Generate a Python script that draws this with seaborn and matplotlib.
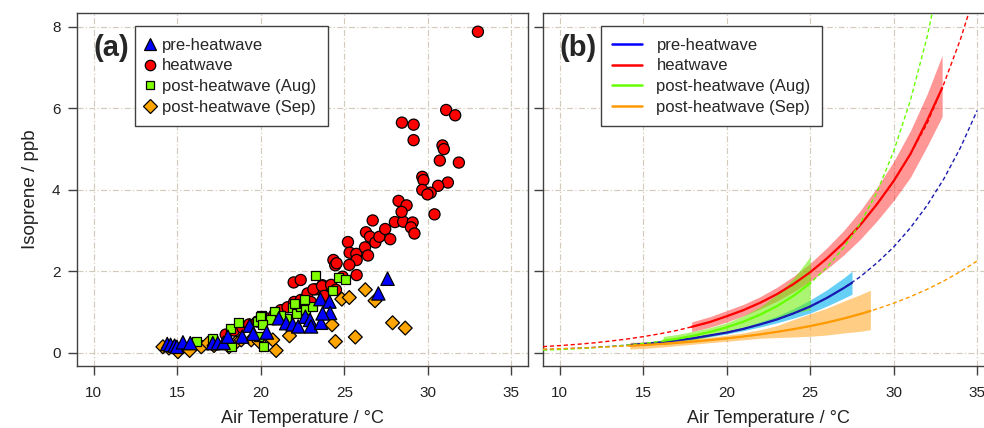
import numpy as np
import pandas as pd
import matplotlib
matplotlib.use("Agg")
import matplotlib.pyplot as plt
import seaborn as sns
from matplotlib.lines import Line2D

# ---------------- data: panel (a) observations ----------------
pre_T = [14.40, 14.60, 14.84, 14.98, 15.34, 15.78, 17.13, 17.43, 17.77, 18.03, 18.89, 19.33,
         19.55, 20.36, 21.08, 21.52, 21.91, 22.24, 22.67, 22.95, 23.01, 23.57, 24.11, 23.61,
         24.15, 23.70, 27.59, 27.04]
pre_y = [0.22, 0.20, 0.18, 0.15, 0.26, 0.24, 0.24, 0.24, 0.25, 0.40, 0.40, 0.67,
         0.47, 0.50, 0.85, 0.73, 0.70, 0.65, 0.89, 0.81, 0.65, 1.32, 1.26, 0.74,
         0.98, 0.97, 1.82, 1.46]

heat_T = [17.9, 18.4, 18.9, 19.3, 19.8, 20.3, 20.8, 21.2, 21.6, 22.0, 22.4, 22.8, 23.3, 23.7,
          24.2, 21.97, 22.39, 23.15, 23.67, 24.21, 23.0, 23.8, 24.5, 24.35, 24.46, 24.54, 24.9,
          25.22, 25.32, 25.72, 25.74, 25.30, 25.74, 26.24, 26.42, 26.3, 26.54, 26.86, 27.1,
          26.7, 27.45, 27.75, 28.03, 28.53, 29.09, 28.99, 29.2, 28.25, 28.73, 28.43, 30.4,
          29.67, 29.74, 31.2, 30.62, 29.67, 30.17, 29.98, 30.72, 31.86, 30.88, 30.96, 28.45,
          29.15, 29.15, 31.1, 31.64, 33.0]
heat_y = [0.45, 0.55, 0.62, 0.70, 0.77, 0.85, 0.93, 1.05, 1.12, 1.25, 1.30, 1.46, 1.56, 1.66,
          1.63, 1.73, 1.79, 1.56, 1.64, 1.67, 1.25, 1.40, 1.55, 2.28, 2.15, 2.20, 1.87,
          2.72, 2.46, 2.43, 2.28, 2.16, 1.91, 2.59, 2.39, 2.96, 2.85, 2.71, 2.85,
          3.25, 3.04, 2.79, 3.21, 3.22, 3.20, 3.08, 2.93, 3.73, 3.62, 3.46, 3.40,
          4.32, 4.24, 4.18, 4.10, 4.00, 3.93, 3.89, 4.72, 4.67, 5.09, 5.00, 5.65,
          5.60, 5.22, 5.96, 5.83, 7.88]

aug_T = [16.18, 17.09, 18.17, 18.69, 18.23, 19.82, 20.06, 20.16, 19.88, 20.66, 21.52, 21.88,
         22.15, 22.36, 22.61, 22.67, 23.11, 23.25, 24.66, 25.10, 24.27, 22.60, 22.00, 21.20,
         20.80, 20.60, 20.00, 20.10]
aug_y = [0.29, 0.36, 0.61, 0.74, 0.15, 0.77, 0.91, 0.17, 0.40, 0.83, 0.85, 1.12,
         0.97, 1.15, 1.22, 1.06, 1.14, 1.89, 1.86, 1.79, 1.52, 1.30, 1.22, 0.93,
         1.01, 0.81, 0.89, 0.69]

sep_T = [14.14, 14.50, 15.04, 15.74, 16.44, 16.84, 17.20, 18.10, 18.50, 18.83, 19.43, 19.90,
         20.72, 20.92, 21.72, 24.27, 24.47, 24.85, 25.30, 25.66, 26.26, 26.84, 27.89, 28.65]
sep_y = [0.15, 0.12, 0.03, 0.06, 0.15, 0.24, 0.18, 0.15, 0.25, 0.32, 0.32, 0.28,
         0.32, 0.06, 0.42, 0.69, 0.28, 1.32, 1.36, 0.39, 1.55, 1.28, 0.74, 0.61]

# ---------------- data: panel (b) fitted curves ----------------
ext_T = list(range(9, 36))
pre_ext = [0.083, 0.097, 0.115, 0.135, 0.16, 0.19, 0.22, 0.26, 0.31, 0.36, 0.43, 0.50, 0.59,
           0.70, 0.82, 0.97, 1.14, 1.35, 1.59, 1.87, 2.21, 2.60, 3.07, 3.62, 4.27, 5.04, 5.95]
heat_ext = [0.155, 0.18, 0.21, 0.245, 0.29, 0.34, 0.40, 0.47, 0.55, 0.65, 0.76, 0.90, 1.05,
            1.23, 1.44, 1.69, 1.98, 2.32, 2.70, 3.14, 3.65, 4.22, 4.88, 5.63, 6.60, 7.70, 9.00]
aug_ext = [0.070, 0.085, 0.104, 0.127, 0.155, 0.189, 0.231, 0.283, 0.345, 0.422, 0.515, 0.629,
           0.768, 0.938, 1.146, 1.400, 1.710, 2.100, 2.580, 3.180, 3.950, 4.950, 6.200, 7.750,
           9.700, 12.1, 15.0]
sep_ext = [0.092, 0.104, 0.118, 0.133, 0.151, 0.171, 0.193, 0.218, 0.247, 0.279, 0.316, 0.357,
           0.404, 0.456, 0.516, 0.584, 0.660, 0.746, 0.844, 0.955, 1.080, 1.221, 1.381, 1.561,
           1.766, 1.997, 2.258]

pre_fT = [14.3, 15, 16, 17, 18, 19, 20, 21, 22, 23, 24, 25, 26, 27, 27.5]
pre_fy = [0.20, 0.22, 0.26, 0.31, 0.36, 0.43, 0.50, 0.59, 0.70, 0.82, 0.97, 1.14, 1.35, 1.59, 1.72]
pre_hi = [0.228, 0.25, 0.289, 0.34, 0.389, 0.463, 0.535, 0.634, 0.763, 0.902, 1.086, 1.30, 1.55, 1.84, 2.00]
pre_lo = [0.172, 0.19, 0.231, 0.28, 0.331, 0.397, 0.465, 0.546, 0.637, 0.738, 0.854, 0.98, 1.15, 1.34, 1.44]

heat_fT = [17.9, 19, 20, 21, 22, 23, 24, 25, 26, 27, 28, 29, 30, 31, 32, 32.9]
heat_fy = [0.64, 0.76, 0.90, 1.05, 1.23, 1.44, 1.69, 1.98, 2.32, 2.70, 3.14, 3.65, 4.22, 4.88, 5.70, 6.50]
heat_hi = [0.76, 0.89, 1.04, 1.19, 1.38, 1.61, 1.88, 2.20, 2.58, 3.00, 3.49, 4.06, 4.70, 5.45, 6.35, 7.30]
heat_lo = [0.52, 0.63, 0.76, 0.91, 1.08, 1.27, 1.50, 1.76, 2.06, 2.40, 2.79, 3.24, 3.74, 4.31, 5.07, 5.80]

aug_fT = [16.2, 17, 18, 19, 20, 21, 22, 23, 24, 25]
aug_fy = [0.30, 0.345, 0.422, 0.515, 0.629, 0.768, 0.938, 1.146, 1.40, 1.71]
aug_hi = [0.405, 0.45, 0.53, 0.62, 0.74, 0.91, 1.13, 1.43, 1.83, 2.36]
aug_lo = [0.195, 0.24, 0.32, 0.41, 0.52, 0.63, 0.75, 0.86, 0.97, 1.06]

sep_fT = [14.2, 15, 16, 17, 18, 19, 20, 21, 22, 23, 24, 25, 26, 27, 28, 28.6]
sep_fy = [0.175, 0.193, 0.218, 0.247, 0.279, 0.316, 0.357, 0.404, 0.456, 0.516, 0.584, 0.66, 0.746, 0.844, 0.955, 1.03]
sep_hi = [0.263, 0.27, 0.28, 0.32, 0.35, 0.385, 0.436, 0.493, 0.57, 0.67, 0.82, 0.96, 1.10, 1.27, 1.43, 1.54]
sep_lo = [0.096, 0.11, 0.14, 0.178, 0.215, 0.253, 0.286, 0.323, 0.36, 0.377, 0.39, 0.41, 0.44, 0.49, 0.53, 0.57]

labels = ["pre-heatwave", "heatwave", "post-heatwave (Aug)", "post-heatwave (Sep)"]
x_ticks = [10, 15, 20, 25, 30, 35]
y_ticks = [0, 2, 4, 6, 8]

# ---------------- style ----------------
sns.set_theme(style="white")
plt.rcParams["font.family"] = ["Liberation Sans", "DejaVu Sans"]

mark_col = {labels[0]: "#0000ff", labels[1]: "#ff0000", labels[2]: "#7fff00", labels[3]: "#ffa500"}
line_col = {labels[0]: "#1a1ab0", labels[1]: "#ff0000", labels[2]: "#66ff00", labels[3]: "#ff9900"}
leg_col = {labels[0]: "#0000ff", labels[1]: "#ff0000", labels[2]: "#66ff00", labels[3]: "#ff9900"}
band_col = {labels[0]: "#00b0f0", labels[1]: "#ff3030", labels[2]: "#66ee00", labels[3]: "#ffa520"}
band_alpha = {labels[0]: 0.6, labels[1]: 0.5, labels[2]: 0.55, labels[3]: 0.55}
markers = {labels[0]: "^", labels[1]: "o", labels[2]: "s", labels[3]: "D"}
sizes = {labels[0]: 92, labels[1]: 64, labels[2]: 42, labels[3]: 50}

fig = plt.figure(figsize=(9.84, 4.28), dpi=100)
axA = fig.add_axes([0.0783, 0.1449, 0.4583, 0.8248])
axB = fig.add_axes([0.5518, 0.1449, 0.4583, 0.8248])

grid_kw = dict(color="#d3cbb9", linestyle=(0, (5, 2, 1, 2)), linewidth=0.85)


def style_axes(ax, show_ylabels):
    ax.set_xlim(9, 36)
    ax.set_ylim(-0.32, 8.34)
    ax.set_xticks(x_ticks)
    ax.set_yticks(y_ticks)
    ax.grid(True, **grid_kw)
    ax.set_axisbelow(True)
    for s in ax.spines.values():
        s.set_color("#404040")
        s.set_linewidth(1.0)
        s.set_visible(True)
    ax.tick_params(axis="both", direction="out", length=6.5, width=1, color="#404040",
                   labelsize=11, bottom=True, left=True, labelcolor="#222222")
    ax.tick_params(axis="x", pad=8)
    ax.tick_params(axis="y", pad=5.5)
    if not show_ylabels:
        ax.tick_params(axis="y", labelleft=False)
    ax.set_xlabel("Air Temperature / \u00b0C", fontsize=13, labelpad=7, color="#222222")


# ---------------- panel (a) ----------------
df = pd.concat([
    pd.DataFrame({"T": heat_T, "iso": heat_y, "group": labels[1]}),
    pd.DataFrame({"T": sep_T, "iso": sep_y, "group": labels[3]}),
    pd.DataFrame({"T": aug_T, "iso": aug_y, "group": labels[2]}),
    pd.DataFrame({"T": pre_T, "iso": pre_y, "group": labels[0]}),
], ignore_index=True)

sns.scatterplot(data=df, x="T", y="iso", hue="group", style="group", size="group",
                palette=mark_col, markers=markers, sizes=sizes, edgecolor="black",
                linewidth=0.9, legend=False, ax=axA, zorder=3)
style_axes(axA, True)
axA.set_ylabel("Isoprene / ppb", fontsize=13.5, labelpad=9, color="#222222")
axA.text(0.037, 0.90, "(a)", transform=axA.transAxes, fontsize=21, fontweight="bold",
         va="center", ha="left")

msz = {labels[0]: 8.5, labels[1]: 7.5, labels[2]: 6.0, labels[3]: 6.8}
handlesA = [Line2D([], [], linestyle="none", marker=markers[l], markersize=msz[l],
                   markerfacecolor=mark_col[l], markeredgecolor="black", markeredgewidth=0.9)
            for l in labels]
legA = axA.legend(handlesA, labels, loc="upper left", bbox_to_anchor=(0.1286, 0.962),
                  borderaxespad=0, fontsize=12, frameon=True, fancybox=False, framealpha=1,
                  edgecolor="#404040", handlelength=0.4, handletextpad=0.55, labelspacing=0.34,
                  borderpad=0.68)
legA.get_frame().set_linewidth(1.0)

# ---------------- panel (b) ----------------
series = [
    (labels[0], pre_ext, pre_fT, pre_fy, pre_lo, pre_hi),
    (labels[1], heat_ext, heat_fT, heat_fy, heat_lo, heat_hi),
    (labels[2], aug_ext, aug_fT, aug_fy, aug_lo, aug_hi),
    (labels[3], sep_ext, sep_fT, sep_fy, sep_lo, sep_hi),
]
for lab, ext, fT, fy, lo, hi in series:
    axB.fill_between(fT, lo, hi, color=band_col[lab], alpha=band_alpha[lab], linewidth=0, zorder=2)
    sns.lineplot(x=ext_T, y=ext, ax=axB, color=line_col[lab], linewidth=1.0,
                 linestyle=(0, (3, 2)), zorder=3)
    sns.lineplot(x=fT, y=fy, ax=axB, color=line_col[lab], linewidth=1.6, zorder=3)

style_axes(axB, False)
axB.set_ylabel("")
axB.text(0.037, 0.90, "(b)", transform=axB.transAxes, fontsize=21, fontweight="bold",
         va="center", ha="left")
handlesB = [Line2D([], [], color=leg_col[l], linewidth=1.8) for l in labels]
legB = axB.legend(handlesB, labels, loc="upper left", bbox_to_anchor=(0.1286, 0.962),
                  borderaxespad=0, fontsize=12, frameon=True, fancybox=False, framealpha=1,
                  edgecolor="#404040", handlelength=1.8, handletextpad=0.85, labelspacing=0.34,
                  borderpad=0.68)
legB.get_frame().set_linewidth(1.0)

fig.savefig("out.png", dpi=100)
